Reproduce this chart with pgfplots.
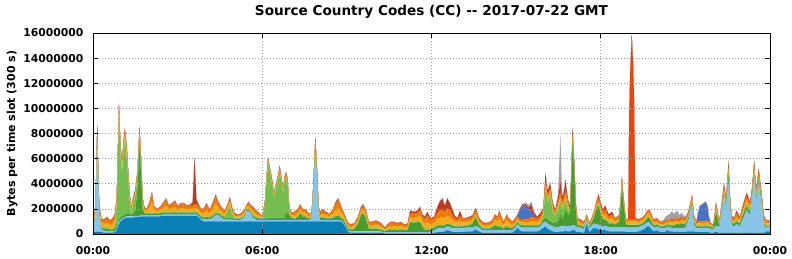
\documentclass[border=0pt]{standalone}
\usepackage{pgfplots}
\pgfplotsset{compat=1.18}
\usepackage{pgfplotstable}
\usepackage{fontspec}
\setmainfont{DejaVu Sans}
\definecolor{cA}{HTML}{0A80B6}
\definecolor{cB}{HTML}{88C4E6}
\definecolor{cD}{HTML}{4A9C2D}
\definecolor{cC}{HTML}{74BE4F}
\definecolor{cE}{HTML}{F7AA1C}
\definecolor{cF}{HTML}{EE7A10}
\definecolor{cH}{HTML}{EE4408}
\definecolor{cJ}{HTML}{4A72C4}
\definecolor{cG}{HTML}{BE3820}
\definecolor{cI}{HTML}{A2A2A2}
\pgfplotstableread{
t A B D C E F H J G I
0.00 0.15 0.45 0.15 0.05 0.25 0.25 0 0 0.05 0.05
0.08 0.15 1.0 0.15 0.05 0.25 0.3 0 0 0.05 0.05
0.15 0.2 7.4 0.15 0.05 0.3 0.4 0 0 0.1 0.1
0.22 0.15 1.3 0.15 0.05 0.3 0.4 0 0 0.05 0.1
0.30 0.15 0.2 0.15 0.05 0.3 0.3 0 0 0.05 0.05
0.40 0.1 0.15 0.15 0.05 0.35 0.3 0 0 0.05 0.05
0.50 0.1 0.15 0.2 0.05 0.4 0.35 0 0 0.1 0.05
0.60 0.1 0.1 0.15 0.05 0.3 0.3 0 0 0.05 0.05
0.70 0.1 0.1 0.15 0.05 0.4 0.35 0 0 0.1 0.05
0.78 0.15 0.1 0.2 0.2 0.5 0.4 0 0 0.1 0.05
0.84 0.3 0.1 0.2 1.5 0.4 0.35 0 0 0.1 0.05
0.92 0.8 0.15 0.2 8.2 0.4 0.5 0 0 0.1 0.1
0.98 1.0 0.15 0.2 4.6 0.4 0.45 0 0 0.1 0.1
1.03 1.1 0.1 0.2 3.6 0.4 0.4 0 0 0.1 0.1
1.08 1.2 0.1 0.2 5.0 0.4 0.4 0 0 0.1 0.1
1.13 1.25 0.1 0.2 5.9 0.4 0.45 0 0 0.1 0.1
1.20 1.3 0.1 0.2 4.4 0.4 0.4 0 0 0.1 0.1
1.28 1.3 0.1 0.2 1.5 0.3 0.4 0 0 0.1 0.1
1.35 1.3 0.1 0.15 0.05 0.2 0.2 0 0 0.05 0.05
1.42 1.3 0.1 0.2 0.8 0.2 0.25 0 0 0.05 0.1
1.50 1.35 0.1 0.4 1.2 0.2 0.2 0 0 0.05 0.1
1.57 1.35 0.1 2.0 0.9 0.25 0.25 0 0 0.05 0.1
1.65 1.35 0.1 5.6 0.8 0.3 0.3 0 0 0.05 0.1
1.71 1.4 0.1 3.0 0.8 0.3 0.25 0 0 0.05 0.1
1.76 1.4 0.1 0.5 0.3 0.3 0.25 0 0 0.05 0.1
1.82 1.4 0.1 0.15 0.05 0.2 0.2 0 0 0.05 0.05
1.90 1.4 0.1 0.1 0.05 0.15 0.15 0 0 0 0.05
2.00 1.4 0.1 0.15 0.05 0.4 0.35 0 0 0.05 0.1
2.09 1.4 0.1 0.15 0.05 0.8 0.75 0 0 0.05 0.1
2.16 1.4 0.1 0.15 0.05 0.25 0.25 0 0 0.05 0.05
2.27 1.4 0.1 0.1 0.05 0.15 0.15 0 0 0 0.05
2.38 1.4 0.1 0.15 0.05 0.2 0.2 0 0 0.05 0.05
2.48 1.45 0.1 0.15 0.05 0.3 0.3 0 0 0.05 0.1
2.59 1.45 0.1 0.15 0.05 0.5 0.45 0 0 0.1 0.1
2.70 1.45 0.1 0.15 0.05 0.2 0.2 0 0 0.05 0.1
2.80 1.45 0.1 0.15 0.05 0.3 0.3 0 0 0.05 0.1
2.91 1.45 0.1 0.15 0.05 0.4 0.35 0 0 0.05 0.15
3.01 1.45 0.1 0.15 0.05 0.2 0.2 0 0 0.05 0.1
3.12 1.45 0.1 0.15 0.05 0.3 0.3 0 0 0.05 0.1
3.23 1.45 0.1 0.15 0.05 0.3 0.3 0 0 0.05 0.1
3.33 1.45 0.1 0.15 0.05 0.2 0.2 0 0 0.05 0.1
3.45 1.45 0.1 0.15 0.05 0.25 0.25 0 0 0.05 0.1
3.53 1.45 0.1 0.15 0.05 0.25 0.25 0 0 0.25 0.1
3.60 1.45 0.1 0.15 0.05 0.3 0.3 0 0 3.7 0.15
3.67 1.45 0.1 0.15 0.05 0.3 0.3 0 0 0.35 0.1
3.75 1.3 0.1 0.15 0.05 0.3 0.3 0 0 0.1 0.1
3.84 1.1 0.1 0.15 0.05 0.25 0.25 0 0 0.05 0.05
3.93 1.0 0.15 0.15 0.05 0.3 0.3 0 0 0.05 0.1
4.02 1.0 0.2 0.15 0.05 0.45 0.45 0 0 0.1 0.1
4.14 1.0 0.15 0.15 0.05 0.25 0.25 0 0 0.05 0.1
4.25 1.0 0.3 0.15 0.05 0.5 0.4 0 0 0.1 0.1
4.35 1.0 0.5 0.15 0.1 0.7 0.55 0 0 0.1 0.1
4.45 1.0 0.5 0.15 0.05 0.4 0.3 0 0 0.1 0.1
4.55 1.0 0.3 0.15 0.05 0.3 0.25 0 0 0.05 0.1
4.67 1.0 0.15 0.15 0.05 0.25 0.2 0 0 0.05 0.05
4.77 1.0 0.15 0.15 0.5 0.25 0.2 0 0 0.05 0.1
4.85 1.0 0.15 0.15 0.9 0.35 0.3 0 0 0.05 0.1
4.93 1.0 0.15 0.15 0.3 0.25 0.2 0 0 0.05 0.1
5.02 1.0 0.1 0.1 0.05 0.2 0.15 0 0 0.05 0.05
5.10 1.0 0.1 0.1 0.05 0.15 0.1 0 0 0.05 0.05
5.20 1.0 0.1 0.1 0.05 0.15 0.1 0 0 0.05 0.05
5.30 1.0 0.2 0.1 0.05 0.2 0.15 0 0 0.05 0.05
5.38 1.0 0.4 0.1 0.05 0.2 0.15 0 0 0.05 0.05
5.45 1.0 0.8 0.1 0.05 0.2 0.15 0 0 0.05 0.05
5.52 1.0 0.85 0.1 0.05 0.25 0.2 0 0 0.05 0.1
5.60 1.0 0.6 0.1 0.05 0.25 0.2 0 0 0.05 0.05
5.67 1.0 0.3 0.15 0.05 0.3 0.25 0 0 0.05 0.1
5.77 1.0 0.15 0.15 0.05 0.25 0.25 0 0 0.05 0.1
5.85 1.0 0.1 0.15 0.05 0.2 0.2 0 0 0.05 0.05
5.93 1.0 0.1 0.1 0.05 0.15 0.15 0 0 0 0.05
6.00 1.0 0.1 0.1 0.05 0.1 0.1 0 0 0 0.05
6.09 1.0 0.1 0.15 0.9 0.15 0.15 0 0 0.05 0.1
6.15 1.0 0.1 0.15 2.8 0.15 0.15 0 0 0.05 0.1
6.20 1.0 0.1 0.2 4.4 0.15 0.2 0 0 0.05 0.1
6.25 1.0 0.1 0.2 3.8 0.15 0.2 0 0 0.05 0.1
6.30 1.0 0.1 0.2 3.2 0.15 0.2 0 0 0.05 0.1
6.36 1.0 0.1 0.2 2.5 0.15 0.2 0 0 0.05 0.1
6.42 1.0 0.1 0.2 1.6 0.15 0.2 0 0 0.05 0.1
6.50 1.0 0.1 0.2 2.4 0.15 0.2 0 0 0.05 0.1
6.56 1.0 0.1 0.2 3.0 0.15 0.2 0 0 0.05 0.1
6.62 1.0 0.1 0.2 3.65 0.15 0.25 0 0 0.05 0.1
6.68 1.0 0.1 0.2 2.8 0.15 0.2 0 0 0.05 0.1
6.74 1.0 0.1 0.2 2.0 0.15 0.2 0 0 0.05 0.1
6.79 1.0 0.1 0.2 2.8 0.15 0.2 0 0 0.05 0.1
6.84 1.0 0.1 0.6 2.8 0.15 0.2 0 0 0.05 0.1
6.90 1.0 0.1 0.6 2.3 0.15 0.2 0 0 0.05 0.1
6.96 1.0 0.1 0.4 0.2 0.2 0.2 0 0 0.05 0.05
7.02 1.0 0.1 0.2 0.05 0.2 0.15 0 0 0.05 0.05
7.08 1.0 0.1 0.15 0.05 0.2 0.15 0 0 0 0.05
7.20 1.0 0.1 0.15 0.05 0.25 0.25 0 0 0.05 0.05
7.28 1.0 0.1 0.3 0.05 0.25 0.3 0 0 0.05 0.05
7.34 1.0 0.1 0.55 0.05 0.3 0.3 0 0 0.05 0.05
7.44 1.0 0.1 0.3 0.05 0.25 0.25 0 0 0 0.05
7.53 1.0 0.1 0.3 0.05 0.25 0.25 0 0 0 0.05
7.60 1.0 0.1 0.15 0.05 0.2 0.2 0 0 0.05 0.05
7.68 1.0 0.1 0.1 0.05 0.15 0.15 0 0 0 0.05
7.75 1.0 0.3 0.1 0.05 0.15 0.15 0 0 0 0.05
7.81 1.0 2.4 0.1 0.05 0.15 0.2 0 0 0.05 0.05
7.88 1.0 5.6 0.3 0.2 0.2 0.3 0 0 0.1 0.1
7.94 1.0 3.6 0.2 0.1 0.2 0.25 0 0 0.05 0.1
8.00 1.0 0.6 0.1 0.05 0.15 0.2 0 0 0.05 0.05
8.06 1.0 0.1 0.15 0.05 0.2 0.2 0 0 0.05 0.05
8.14 1.0 0.1 0.2 0.05 0.25 0.3 0 0 0.05 0.05
8.26 1.0 0.1 0.15 0.05 0.2 0.2 0 0 0.05 0.05
8.38 1.0 0.1 0.1 0.05 0.15 0.15 0 0 0 0.05
8.50 1.0 0.1 0.15 0.05 0.3 0.3 0 0 0.05 0.05
8.60 1.0 0.1 0.3 0.05 0.45 0.5 0 0 0.1 0.1
8.70 1.0 0.1 0.35 0.05 0.55 0.65 0 0 0.1 0.1
8.79 1.0 0.1 0.2 0.05 0.4 0.4 0 0 0.05 0.1
8.88 0.8 0.1 0.2 0.05 0.3 0.25 0 0 0.05 0.05
8.97 0.5 0.1 0.15 0.05 0.2 0.2 0 0 0.05 0.05
9.05 0.15 0.1 0.15 0.05 0.2 0.15 0 0 0.05 0.05
9.15 0.1 0.1 0.15 0.05 0.15 0.15 0 0 0.05 0.05
9.27 0.1 0.1 0.2 0.05 0.2 0.15 0 0 0.05 0.05
9.39 0.1 0.1 0.6 0.05 0.25 0.2 0 0 0.05 0.05
9.50 0.1 0.1 1.3 0.05 0.25 0.25 0 0 0.1 0.05
9.58 0.1 0.1 1.45 0.05 0.3 0.25 0 0 0.1 0.05
9.68 0.1 0.1 1.0 0.05 0.3 0.25 0 0 0.05 0.05
9.78 0.1 0.1 0.2 0.05 0.25 0.2 0 0 0.05 0.05
9.89 0.1 0.1 0.2 0.05 0.25 0.2 0 0 0.05 0.05
10.04 0.1 0.1 0.2 0.05 0.3 0.25 0 0 0.05 0.05
10.21 0.1 0.1 0.15 0.05 0.2 0.2 0 0 0.05 0.05
10.35 0.05 0.05 0.1 0.05 0.1 0.1 0 0 0.05 0.05
10.44 0.05 0.1 0.15 0.05 0.15 0.2 0 0 0.05 0.05
10.56 0.05 0.1 0.2 0.05 0.25 0.25 0 0 0.05 0.05
10.67 0.05 0.1 0.2 0.05 0.25 0.25 0 0 0.05 0.05
10.79 0.05 0.1 0.15 0.05 0.2 0.25 0 0 0.05 0.05
10.91 0.05 0.1 0.2 0.05 0.25 0.25 0 0 0.05 0.05
11.03 0.05 0.1 0.15 0.05 0.15 0.2 0 0 0.05 0.05
11.15 0.05 0.1 0.15 0.05 0.2 0.2 0 0 0.05 0.05
11.24 0.05 0.1 0.8 0.05 0.35 0.35 0 0 0.15 0.05
11.38 0.05 0.1 0.7 0.05 0.35 0.35 0 0 0.15 0.05
11.50 0.05 0.1 0.8 0.05 0.35 0.35 0 0 0.15 0.05
11.60 0.05 0.1 0.8 0.05 0.45 0.45 0 0 0.25 0.05
11.68 0.05 0.1 0.4 0.05 0.4 0.4 0 0 0.15 0.05
11.76 0.05 0.1 0.2 0.05 0.4 0.4 0 0 0.15 0.05
11.85 0.05 0.1 0.2 0.05 0.55 0.55 0 0 0.25 0.05
11.97 0.05 0.1 0.2 0.05 0.35 0.35 0 0 0.15 0.05
12.09 0.1 0.2 0.2 0.05 0.35 0.35 0 0 0.1 0.05
12.21 0.15 0.3 0.2 0.05 0.5 0.5 0 0 0.45 0.05
12.30 0.15 0.3 0.2 0.05 0.6 0.6 0 0 0.7 0.1
12.39 0.15 0.3 0.2 0.05 0.6 0.6 0 0 0.9 0.1
12.47 0.2 0.3 0.2 0.05 0.5 0.5 0 0 0.5 0.05
12.56 0.3 0.3 0.2 0.05 0.6 0.6 0 0 0.75 0.1
12.66 0.25 0.3 0.2 0.05 0.5 0.55 0 0 0.55 0.1
12.74 0.15 0.3 0.2 0.05 0.4 0.45 0 0 0.4 0.05
12.82 0.15 0.3 0.15 0.05 0.3 0.3 0 0 0.2 0.05
12.92 0.15 0.3 0.15 0.05 0.25 0.25 0 0 0.1 0.05
13.01 0.15 0.3 0.15 0.05 0.4 0.4 0 0 0.4 0.05
13.10 0.15 0.3 0.15 0.05 0.25 0.25 0 0 0.1 0.05
13.21 0.2 0.3 0.15 0.05 0.25 0.25 0 0 0.05 0.05
13.33 0.2 0.3 0.2 0.05 0.25 0.25 0 0 0.1 0.05
13.45 0.2 0.3 0.3 0.05 0.25 0.25 0 0 0.1 0.05
13.57 0.35 0.3 0.7 0.05 0.25 0.25 0 0 0.15 0.05
13.69 0.2 0.3 0.2 0.05 0.2 0.2 0 0 0.1 0.05
13.80 0.1 0.2 0.15 0.05 0.2 0.2 0 0 0.05 0.05
13.91 0.1 0.2 0.1 0.05 0.2 0.15 0 0 0.05 0.05
14.09 0.1 0.2 0.15 0.05 0.2 0.2 0 0 0.05 0.05
14.17 0.1 0.2 0.25 0.05 0.25 0.25 0 0 0.05 0.05
14.24 0.1 0.2 0.4 0.05 0.4 0.35 0 0 0.05 0.05
14.33 0.1 0.2 0.3 0.05 0.35 0.3 0 0 0.05 0.05
14.41 0.1 0.2 0.3 0.05 0.6 0.55 0 0 0.05 0.05
14.48 0.1 0.2 0.2 0.05 0.4 0.35 0 0 0.05 0.05
14.56 0.1 0.2 0.15 0.05 0.2 0.2 0 0 0.05 0.05
14.66 0.1 0.2 0.3 0.05 0.45 0.4 0 0 0.05 0.05
14.74 0.1 0.2 0.2 0.05 0.35 0.3 0 0 0.05 0.05
14.86 0.1 0.2 0.15 0.05 0.2 0.2 0 0 0.05 0.05
14.98 0.3 0.25 0.15 0.05 0.2 0.2 0 0 0.1 0.05
15.05 0.5 0.3 0.15 0.05 0.2 0.2 0 0.05 0.1 0.05
15.12 0.3 0.3 0.15 0.05 0.2 0.2 0 0.6 0.1 0.1
15.21 0.2 0.3 0.15 0.05 0.2 0.2 0 1.1 0.1 0.1
15.33 0.2 0.3 0.15 0.05 0.25 0.25 0 1.0 0.15 0.15
15.45 0.2 0.3 0.15 0.05 0.25 0.25 0 0.7 0.2 0.2
15.54 0.2 0.3 0.15 0.05 0.3 0.35 0 0.5 0.5 0.25
15.63 0.2 0.3 0.15 0.05 0.3 0.3 0 0.1 0.3 0.1
15.74 0.2 0.3 0.15 0.05 0.25 0.25 0 0 0.15 0.05
15.86 0.3 0.3 0.15 0.05 0.3 0.3 0 0 0.25 0.05
15.96 0.5 0.4 0.2 0.3 0.25 0.25 0 0 0.15 0.05
16.04 0.6 0.4 0.3 2.3 0.3 0.4 0 0 0.5 0.1
16.12 0.4 0.4 0.3 1.4 0.3 0.3 0 0 0.35 0.05
16.21 0.3 0.4 0.3 2.0 0.3 0.35 0 0 0.4 0.05
16.30 0.2 0.4 0.3 0.9 0.2 0.25 0 0 0.2 0.05
16.39 0.15 0.4 0.3 0.5 0.2 0.2 0 0 0.2 0.05
16.49 0.15 0.4 0.5 1.0 0.3 0.3 0 0 0.35 0.3
16.57 0.2 0.4 1.0 1.0 0.3 0.4 0 0 0.9 3.8
16.63 0.2 0.4 0.6 0.8 0.25 0.3 0 0 0.3 0.15
16.69 0.2 0.4 0.8 0.8 0.3 0.4 0 0 0.45 0.15
16.75 0.25 0.4 1.3 0.8 0.3 0.5 0 0 0.7 0.15
16.83 0.2 0.4 1.0 0.4 0.3 0.35 0 0 0.25 0.1
16.90 0.2 0.4 0.9 0.1 0.2 0.2 0 0 0.15 0.05
16.95 0.25 0.4 3.0 0.1 0.2 0.3 0 0 0.2 0.05
17.00 0.3 0.4 6.6 0.1 0.3 0.4 0 0 0.3 0.1
17.06 0.3 0.4 4.3 0.1 0.2 0.35 0 0 0.25 0.1
17.12 0.2 0.4 1.0 0.05 0.3 0.3 0 0 0.15 0.1
17.18 0.15 0.4 0.15 0.05 0.2 0.2 0 0 0.05 0.1
17.28 0.15 0.35 0.15 0.05 0.2 0.15 0 0 0.05 0.1
17.41 0.1 0.3 0.15 0.05 0.15 0.15 0 0 0.05 0.05
17.50 0.8 0.3 0.1 0.05 0.15 0.1 0 0 0.05 0.05
17.60 0.15 0.3 0.1 0.05 0.1 0.1 0 0 0.05 0.05
17.71 0.4 0.35 0.3 0.05 0.15 0.15 0 0 0.05 0.05
17.78 0.5 0.35 0.6 0.05 0.2 0.2 0 0 0.05 0.05
17.84 0.4 0.35 1.2 0.05 0.2 0.2 0 0 0.15 0.05
17.92 0.4 0.35 1.5 0.05 0.3 0.3 0 0 0.25 0.05
18.00 0.3 0.35 1.0 0.05 0.25 0.3 0 0 0.2 0.05
18.08 0.3 0.35 0.5 0.05 0.25 0.3 0 0 0.2 0.05
18.16 0.3 0.35 0.5 0.05 0.35 0.4 0 0 0.3 0.05
18.28 0.2 0.35 0.3 0.05 0.25 0.25 0 0 0.15 0.05
18.40 0.2 0.35 0.3 0.05 0.35 0.3 0 0 0.2 0.05
18.51 0.2 0.35 0.2 0.05 0.2 0.2 0 0 0.05 0.05
18.64 0.2 0.35 0.4 0.05 0.2 0.2 0 0 0.05 0.05
18.70 0.2 0.35 1.5 0.05 0.2 0.2 0 0 0.05 0.05
18.75 0.2 0.35 3.2 0.05 0.3 0.3 0 0 0.2 0.1
18.81 0.2 0.35 1.8 0.05 0.2 0.2 0 0 0.15 0.05
18.89 0.15 0.35 0.3 0.05 0.2 0.15 0 0 0.05 0.05
18.97 0.15 0.35 0.2 0.05 0.15 0.1 0 0 0.05 0.05
18.99 0.15 0.35 0.2 0.05 0.25 0.15 3.7 0 0.05 0.05
19.01 0.15 0.35 0.2 0.05 0.25 0.15 8.7 0 0.05 0.05
19.05 0.15 0.35 0.2 0.05 0.25 0.15 12.2 0 0.05 0.05
19.10 0.15 0.35 0.2 0.05 0.25 0.15 14.65 0 0.05 0.05
19.15 0.15 0.35 0.2 0.05 0.25 0.15 12.2 0 0.05 0.05
19.19 0.15 0.35 0.2 0.05 0.25 0.15 8.7 0 0.05 0.05
19.21 0.15 0.35 0.2 0.05 0.25 0.15 3.7 0 0.05 0.05
19.23 0.15 0.35 0.2 0.05 0.25 0.15 0.05 0 0.05 0.05
19.34 0.2 0.35 0.15 0.05 0.2 0.15 0 0 0.05 0.05
19.45 0.3 0.35 0.15 0.05 0.2 0.15 0 0 0.05 0.05
19.55 0.4 0.35 0.2 0.05 0.25 0.15 0 0 0.05 0.05
19.65 0.6 0.35 0.3 0.05 0.3 0.2 0 0 0.05 0.05
19.72 0.6 0.35 0.35 0.05 0.3 0.25 0 0 0.05 0.05
19.78 0.4 0.35 0.3 0.05 0.25 0.25 0 0 0.05 0.05
19.87 0.2 0.3 0.15 0.05 0.2 0.2 0 0 0.05 0.05
19.99 0.3 0.3 0.15 0.05 0.2 0.2 0 0 0.05 0.05
20.11 0.15 0.3 0.1 0.05 0.15 0.15 0 0 0.05 0.05
20.22 0.15 0.3 0.15 0.05 0.15 0.15 0 0 0.05 0.1
20.30 0.2 0.3 0.15 0.05 0.15 0.15 0 0 0.05 0.35
20.37 0.3 0.3 0.15 0.05 0.15 0.15 0 0 0.05 0.35
20.45 0.2 0.3 0.15 0.05 0.2 0.2 0 0 0.05 0.45
20.52 0.2 0.3 0.2 0.05 0.2 0.2 0 0 0.05 0.6
20.60 0.15 0.3 0.2 0.05 0.2 0.2 0 0 0.05 0.45
20.70 0.2 0.3 0.3 0.05 0.2 0.2 0 0 0.05 0.6
20.79 0.15 0.3 0.3 0.05 0.15 0.15 0 0 0.05 0.35
20.86 0.15 0.3 0.4 0.05 0.2 0.2 0 0 0.05 0.35
20.98 0.15 0.3 0.3 0.05 0.2 0.15 0 0 0.05 0.2
21.06 0.2 0.6 0.2 0.05 0.2 0.15 0 0 0.1 0.1
21.12 0.2 1.0 0.2 0.05 0.2 0.15 0 0 0.1 0.1
21.20 0.2 1.8 0.2 0.05 0.2 0.15 0 0 0.1 0.1
21.24 0.2 2.1 0.2 0.05 0.25 0.2 0 0 0.1 0.1
21.30 0.2 0.6 0.2 0.05 0.2 0.15 0 0 0.1 0.1
21.39 0.15 0.3 0.15 0.05 0.15 0.1 0 0 0.05 0.05
21.45 0.15 0.3 0.15 0.05 0.2 0.15 0 0.7 0.05 0.05
21.52 0.15 0.3 0.15 0.05 0.2 0.15 0 1.2 0.05 0.05
21.60 0.15 0.3 0.15 0.05 0.2 0.15 0 1.3 0.05 0.05
21.66 0.15 0.3 0.15 0.05 0.2 0.15 0 1.4 0.05 0.05
21.72 0.15 0.3 0.15 0.05 0.2 0.15 0 1.5 0.05 0.05
21.78 0.15 0.3 0.15 0.05 0.2 0.15 0 1.2 0.05 0.05
21.83 0.15 0.3 0.15 0.05 0.2 0.15 0 0.4 0.05 0.05
21.90 0.1 0.3 0.15 0.05 0.1 0.1 0 0 0.05 0.05
21.98 0.1 0.25 0.1 0.05 0.1 0.1 0 0 0.05 0.05
22.04 0.15 0.4 0.5 0.05 0.2 0.15 0 0 0.1 0.05
22.08 0.15 0.5 1.2 0.05 0.25 0.2 0 0 0.2 0.05
22.13 0.15 0.5 0.7 0.05 0.2 0.2 0 0 0.15 0.05
22.20 0.1 0.4 0.15 0.05 0.15 0.15 0 0 0.05 0.05
22.26 0.1 1.2 0.15 0.05 0.15 0.15 0 0 0.15 0.05
22.31 0.1 2.0 0.15 0.05 0.2 0.2 0 0 0.25 0.05
22.37 0.1 2.9 0.2 0.05 0.25 0.25 0 0 0.3 0.05
22.44 0.1 2.0 0.2 0.05 0.2 0.2 0 0 0.2 0.05
22.49 0.1 3.1 0.2 0.2 0.25 0.25 0 0 0.25 0.05
22.53 0.1 4.1 0.2 0.6 0.25 0.3 0 0 0.3 0.05
22.58 0.1 2.0 0.2 0.2 0.2 0.2 0 0 0.25 0.05
22.64 0.1 0.6 0.2 0.05 0.2 0.2 0 0 0.1 0.05
22.73 0.1 0.5 0.2 0.05 0.15 0.15 0 0 0.1 0.05
22.81 0.1 0.7 0.2 0.05 0.3 0.3 0 0 0.2 0.05
22.93 0.1 0.5 0.2 0.05 0.2 0.2 0 0 0.1 0.05
23.02 0.1 1.0 0.3 0.05 0.3 0.25 0 0 0.15 0.05
23.10 0.1 1.4 0.35 0.05 0.35 0.3 0 0 0.2 0.05
23.17 0.1 1.8 0.35 0.05 0.4 0.3 0 0 0.25 0.05
23.23 0.1 1.6 0.3 0.05 0.35 0.3 0 0 0.25 0.05
23.29 0.1 1.4 0.25 0.05 0.3 0.25 0 0 0.2 0.05
23.35 0.1 2.3 0.25 0.05 0.3 0.25 0 0 0.2 0.05
23.40 0.1 3.5 0.3 0.05 0.3 0.25 0 0 0.25 0.05
23.44 0.1 4.4 0.3 0.05 0.4 0.3 0 0 0.3 0.05
23.49 0.1 3.0 0.25 0.05 0.3 0.25 0 0 0.2 0.05
23.52 0.1 2.7 0.2 0.05 0.3 0.25 0 0 0.15 0.05
23.56 0.1 3.4 0.25 0.05 0.3 0.25 0 0 0.2 0.05
23.60 0.1 3.9 0.3 0.05 0.3 0.3 0 0 0.25 0.05
23.65 0.1 3.1 0.25 0.05 0.3 0.25 0 0 0.2 0.05
23.70 0.1 2.3 0.25 0.05 0.25 0.25 0 0 0.15 0.05
23.75 0.1 1.2 0.2 0.05 0.25 0.2 0 0 0.15 0.05
23.80 0.1 0.5 0.15 0.05 0.25 0.2 0 0 0.1 0.05
23.87 0.2 0.3 0.1 0.05 0.2 0.15 0 0 0.05 0.05
24.00 0.2 0.3 0.1 0.05 0.2 0.15 0 0 0.05 0.05
}\data
\begin{document}
\begin{tikzpicture}
\begin{axis}[
  name=ax,
  set layers=axis on top,
  scale only axis,
  width=677bp, height=201bp,
  xmin=0, xmax=24, ymin=0, ymax=16,
  stack plots=y,
  xtick={0,6,12,18,24},
  xticklabels={00:00,06:00,12:00,18:00,00:00},
  ytick={0,2,4,6,8,10,12,14,16},
  yticklabels={0,2000000,4000000,6000000,8000000,10000000,12000000,14000000,16000000},
  tick align=inside,
  xtick pos=both, ytick pos=both,
  major tick length=5bp,
  tick style={black, line width=0.6bp},
  axis line style={black, line width=0.9bp},
  grid=major,
  grid style={/pgfplots/on layer=axis background, gray!75, line width=0.6bp, dash pattern=on 0.8bp off 2.2bp},
  ticklabel style={font=\fontsize{10.8bp}{12bp}\selectfont\bfseries},
  xticklabel style={yshift=-9bp},
  yticklabel style={xshift=-6bp},
  every axis title shift=0pt,
  title={Source Country Codes (CC) -{}- 2017-07-22 GMT},
  title style={font=\fontsize{13.6bp}{16bp}\selectfont\bfseries, at={(axis description cs:0.5,1.1045)}, anchor=center},
  ylabel={Bytes per time slot (300 s)},
  ylabel style={font=\fontsize{11bp}{13bp}\selectfont\bfseries, at={(axis description cs:-0.1196,0.5)}, anchor=center},
]
\addplot[fill=cA, draw=none] table[x=t,y=A]{\data} \closedcycle;
\addplot[fill=cB, draw=none] table[x=t,y=B]{\data} \closedcycle;
\addplot[fill=cD, draw=none] table[x=t,y=D]{\data} \closedcycle;
\addplot[fill=cC, draw=none] table[x=t,y=C]{\data} \closedcycle;
\addplot[fill=cE, draw=none] table[x=t,y=E]{\data} \closedcycle;
\addplot[fill=cF, draw=none] table[x=t,y=F]{\data} \closedcycle;
\addplot[fill=cH, draw=none] table[x=t,y=H]{\data} \closedcycle;
\addplot[fill=cJ, draw=none] table[x=t,y=J]{\data} \closedcycle;
\addplot[fill=cG, draw=none] table[x=t,y=G]{\data} \closedcycle;
\addplot[fill=cI, draw=none] table[x=t,y=I]{\data} \closedcycle;
\end{axis}
\pgfresetboundingbox
\path ([xshift=-93bp,yshift=-25bp]ax.south west) rectangle ([xshift=22bp,yshift=33bp]ax.north east);
\end{tikzpicture}
\end{document}
